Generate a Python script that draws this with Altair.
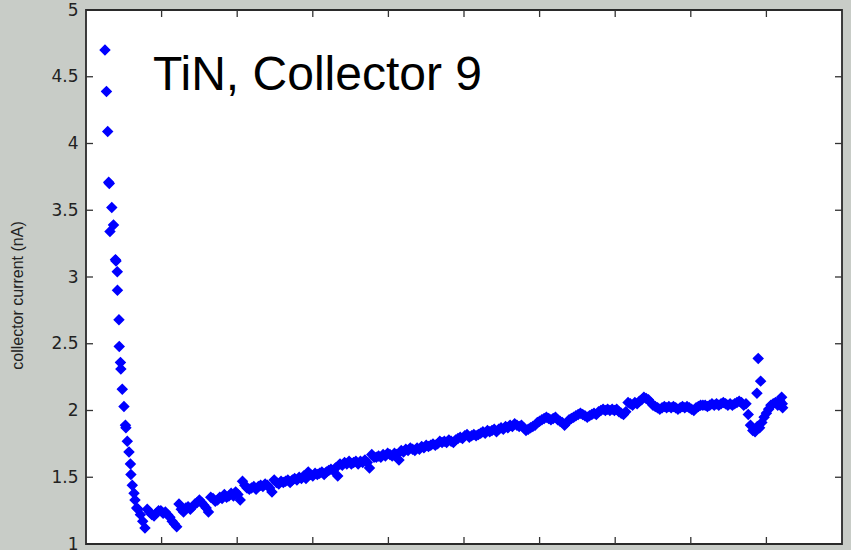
import altair as alt
import pandas as pd

# ---- data (time in s, collector current in nA) ----
start_time = [25.1, 27.1, 28.7, 30.0, 30.8, 31.7, 34.1, 36.4, 39.0, 39.7,
              41.4, 41.6, 43.6, 44.0, 45.6, 46.1, 48.0, 50.2, 52.2, 52.8,
              54.6, 56.9, 58.8, 59.4, 61.2, 63.5, 64.8, 67.0]
start_current = [4.70, 4.39, 4.09, 3.71, 3.70, 3.34, 3.52, 3.39, 3.13, 3.12,
                 3.04, 2.90, 2.68, 2.48, 2.36, 2.31, 2.16, 2.03, 1.89, 1.87,
                 1.77, 1.69, 1.60, 1.52, 1.44, 1.38, 1.33, 1.27]

band_start = 69
band_step = 3
band_current = [
    1.26, 1.22, 1.17, 1.12, 1.26, 1.24, 1.22, 1.21, 1.23, 1.25,
    1.25, 1.23, 1.24, 1.22, 1.20, 1.17, 1.15, 1.13, 1.30, 1.26,
    1.24, 1.27, 1.28, 1.26, 1.28, 1.30, 1.31, 1.33, 1.31, 1.29,
    1.27, 1.24, 1.35, 1.34, 1.32, 1.33, 1.35, 1.34, 1.37, 1.35,
    1.36, 1.38, 1.36, 1.39, 1.37, 1.33, 1.47, 1.44, 1.42, 1.41,
    1.42, 1.43, 1.41, 1.43, 1.44, 1.43, 1.45, 1.44, 1.42, 1.39,
    1.48, 1.46, 1.45, 1.47, 1.46, 1.47, 1.48, 1.46, 1.48, 1.49,
    1.48, 1.50, 1.49, 1.51, 1.49, 1.54, 1.52, 1.51, 1.53, 1.52,
    1.53, 1.54, 1.52, 1.54, 1.55, 1.56, 1.55, 1.57, 1.51, 1.60,
    1.59, 1.61, 1.60, 1.62, 1.60, 1.61, 1.62, 1.60, 1.62, 1.61,
    1.63, 1.61, 1.57, 1.67, 1.65, 1.65, 1.66, 1.65, 1.67, 1.66,
    1.68, 1.67, 1.66, 1.68, 1.67, 1.63, 1.70, 1.69, 1.71, 1.70,
    1.72, 1.71, 1.70, 1.72, 1.71, 1.73, 1.72, 1.74, 1.73, 1.74,
    1.75, 1.74, 1.75, 1.77, 1.76, 1.77, 1.76, 1.78, 1.77, 1.76,
    1.78, 1.79, 1.80, 1.79, 1.81, 1.82, 1.80, 1.81, 1.82, 1.81,
    1.82, 1.83, 1.84, 1.83, 1.85, 1.84, 1.85, 1.86, 1.84, 1.86,
    1.87, 1.86, 1.88, 1.87, 1.89, 1.88, 1.90, 1.89, 1.88, 1.89,
    1.87, 1.85, 1.86, 1.87, 1.88, 1.89, 1.91, 1.92, 1.93, 1.94,
    1.95, 1.94, 1.93, 1.94, 1.95, 1.93, 1.92, 1.91, 1.89, 1.91,
    1.93, 1.94, 1.95, 1.96, 1.97, 1.98, 1.97, 1.96, 1.95, 1.96,
    1.97, 1.98, 1.97, 1.99, 2.00, 2.01, 2.00, 2.01, 2.00, 2.01,
    2.00, 2.01, 1.99, 1.98, 1.97, 1.99, 2.06, 2.05, 2.04, 2.06,
    2.05, 2.07, 2.08, 2.10, 2.09, 2.08, 2.06, 2.04, 2.03, 2.02,
    2.01, 2.02, 2.03, 2.02, 2.03, 2.02, 2.03, 2.02, 2.01, 2.02,
    2.03, 2.02, 2.03, 2.02, 2.01, 2.00, 2.02, 2.03, 2.04, 2.04,
    2.04, 2.03, 2.04, 2.05, 2.04, 2.05, 2.04, 2.05, 2.06, 2.05,
    2.04, 2.05, 2.04, 2.05, 2.06, 2.07, 2.06, 2.04, 2.05, 1.97,
    1.89, 1.85, 1.84, 1.88, 1.87, 1.91, 1.95, 1.98, 2.01, 2.04,
    2.05, 2.06, 2.04, 2.07, 2.05,
]

extra_time = [887.5, 889.2, 892.4, 920.2, 921.5]
extra_current = [2.13, 2.39, 2.22, 2.10, 2.02]

y_tick_values = [1, 1.5, 2, 2.5, 3, 3.5, 4, 4.5, 5]
inner_y_ticks = [1.5, 2, 2.5, 3, 3.5, 4, 4.5]
inner_x_ticks = [100, 200, 300, 400, 500, 600, 700, 800, 900]
annotation = "TiN, Collector 9"

# ---- tables ----
band_time = [band_start + band_step * i for i in range(len(band_current))]
points = pd.DataFrame({
    "time": start_time + band_time + extra_time,
    "current": start_current + band_current + extra_current,
})

X_MIN, X_MAX, Y_MIN, Y_MAX = 0, 1000, 1, 5
TX = 9.3      # tick length in x data units (~7 px)
TY = 0.0525   # tick length in y data units (~7 px)

left_ticks = pd.DataFrame({"time": [X_MIN] * len(inner_y_ticks),
                           "time2": [X_MIN + TX] * len(inner_y_ticks),
                           "current": inner_y_ticks})
right_ticks = pd.DataFrame({"time": [X_MAX - TX] * len(inner_y_ticks),
                            "time2": [X_MAX] * len(inner_y_ticks),
                            "current": inner_y_ticks})
top_ticks = pd.DataFrame({"time": inner_x_ticks,
                          "current": [Y_MAX] * len(inner_x_ticks),
                          "current2": [Y_MAX - TY] * len(inner_x_ticks)})
bottom_ticks = pd.DataFrame({"time": inner_x_ticks,
                             "current": [Y_MIN] * len(inner_x_ticks),
                             "current2": [Y_MIN + TY] * len(inner_x_ticks)})
label_df = pd.DataFrame({"time": [88.6], "current": [4.40], "label": [annotation]})

xscale = alt.Scale(domain=[X_MIN, X_MAX], nice=False, zero=False)
yscale = alt.Scale(domain=[Y_MIN, Y_MAX], nice=False, zero=False)

x_axis = alt.Axis(labels=False, ticks=False, domain=False, grid=False, title=None)
y_axis = alt.Axis(values=y_tick_values, format="~g", labelFont="DejaVu Sans",
                  labelFontSize=17, labelColor="#222222", labelPadding=8,
                  labelFlush=False, labelOverlap=False,
                  ticks=False, tickSize=0, domain=False, grid=False,
                  title="collector current (nA)", titleFont="Liberation Sans",
                  titleFontSize=16, titleFontWeight="normal", titleColor="#222222",
                  titleX=-61, titleY=285, titleAngle=270, titleAlign="center",
                  titleBaseline="bottom")

X = alt.X("time:Q", scale=xscale, axis=x_axis)
Y = alt.Y("current:Q", scale=yscale, axis=y_axis)

dots = alt.Chart(points).mark_point(
    shape="diamond", filled=True, size=85, color="#0000ff",
    stroke="#0000ff", strokeWidth=1.6, opacity=1
).encode(x=X, y=Y)

tick_color = "#333333"
lt = alt.Chart(left_ticks).mark_rule(color=tick_color, strokeWidth=1.3).encode(x=X, x2="time2:Q", y=Y)
rt = alt.Chart(right_ticks).mark_rule(color=tick_color, strokeWidth=1.3).encode(x=X, x2="time2:Q", y=Y)
tt = alt.Chart(top_ticks).mark_rule(color=tick_color, strokeWidth=1.3).encode(x=X, y=Y, y2="current2:Q")
bt = alt.Chart(bottom_ticks).mark_rule(color=tick_color, strokeWidth=1.3).encode(x=X, y=Y, y2="current2:Q")

label = alt.Chart(label_df).mark_text(
    align="left", baseline="alphabetic", font="Liberation Sans",
    fontSize=48, color="#000000"
).encode(x=X, y=Y, text="label:N")

chart = alt.layer(dots, lt, rt, tt, bt, label).properties(
    width=756, height=534,
    autosize=alt.AutoSizeParams(type="none"),
    padding={"left": 86, "top": 10, "right": 9, "bottom": 6},
    background="#c8ccc7",
).configure_view(
    stroke="#2a2a2a", strokeWidth=1.8, fill="#ffffff"
)

chart.save("out.html", embed_options={"renderer": "svg", "actions": False})
